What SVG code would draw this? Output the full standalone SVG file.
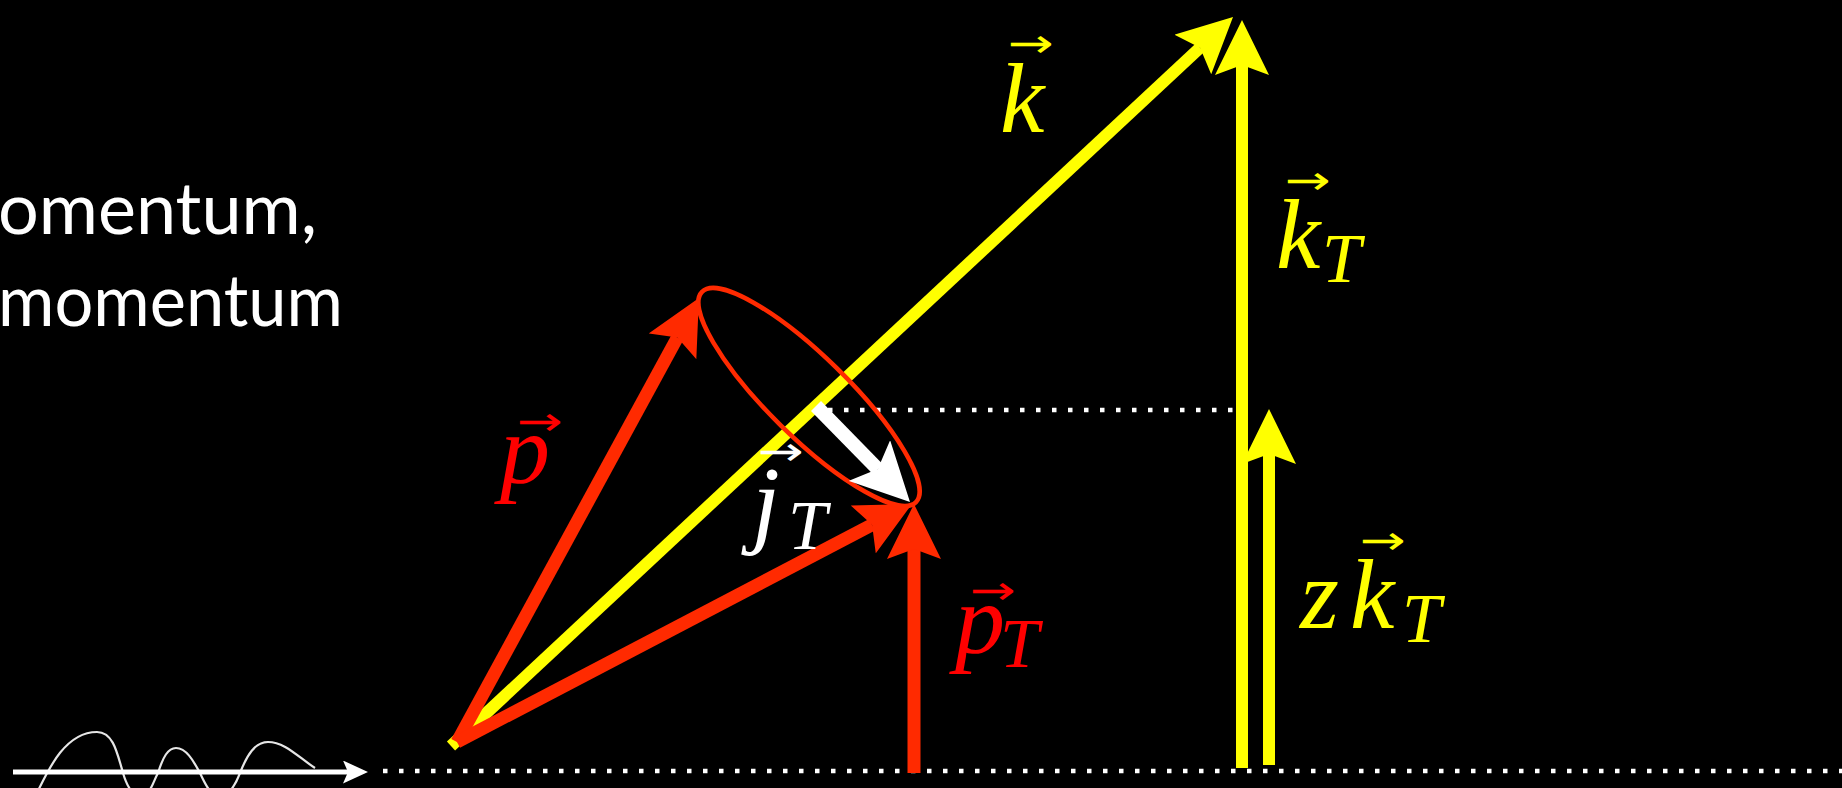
<svg xmlns="http://www.w3.org/2000/svg" width="1842" height="788" viewBox="0 0 1842 788">
<style>
.bg{fill:#000}
.dot{stroke:#fff;stroke-width:4.5;stroke-dasharray:4.5 11.5;fill:none}
.ylw{stroke:#ffff00;stroke-width:12;fill:none}
.red{stroke:#ff2a00;stroke-width:13;fill:none}
.wht{stroke:#fff;stroke-width:14;fill:none}
.body{font-family:Lato,"Open Sans",sans-serif;font-size:71px;fill:#fff}
.m2{font-family:'Liberation Serif',serif;font-style:italic;font-size:100px}
.sub{font-size:70px}
.vec{font-family:'DejaVu Sans',sans-serif;font-style:normal;font-size:40px}
</style>
<defs>
<marker id="hy" markerUnits="userSpaceOnUse" viewBox="0 0 55 54" markerWidth="55" markerHeight="54" refX="10" refY="27" orient="auto"><path d="M0,0 L55,27 L0,54 L10,27 Z" fill="#ffff00"/></marker>
<marker id="hr" markerUnits="userSpaceOnUse" viewBox="0 0 55 54" markerWidth="55" markerHeight="54" refX="10" refY="27" orient="auto"><path d="M0,0 L55,27 L0,54 L10,27 Z" fill="#ff2a00"/></marker>
<marker id="hw" markerUnits="userSpaceOnUse" viewBox="0 0 58 58" markerWidth="58" markerHeight="58" refX="12" refY="29" orient="auto"><path d="M0,0 L58,29 L0,58 L12,29 Z" fill="#fff"/></marker>
<marker id="hs" markerUnits="userSpaceOnUse" viewBox="0 0 25 23" markerWidth="25" markerHeight="23" refX="5" refY="11.5" orient="auto"><path d="M0,0 L25,11.5 L0,23 L5,11.5 Z" fill="#fff"/></marker>
</defs>
<rect class="bg" x="0" y="0" width="1842" height="788"/>

<g id="caption">
<text class="body" x="-2" y="234" textLength="319" lengthAdjust="spacingAndGlyphs">omentum,</text>
<text class="body" x="-2" y="326" textLength="345" lengthAdjust="spacingAndGlyphs">momentum</text>
</g>

<g id="connectors">
<line class="dot" x1="383" y1="771" x2="1842" y2="771"/>
<line class="dot" x1="812" y1="410" x2="1237" y2="410"/>
<path id="wave" d="M36,795 C48,770 65,732 97,732 C113,732 117,752 123,773 C128,790 134,796 141,796 C150,796 153,782 158,773 C163,757 168,748 176,748 C186,748 193,760 200,773 C206,786 211,796 220,796 C229,796 235,786 240,773 C247,755 255,742 268,742 C285,742 298,757 315,768" fill="none" stroke="#e6e6e6" stroke-width="2.2"/>
<line id="beam" x1="13" y1="772" x2="348" y2="772" stroke="#fff" stroke-width="5" marker-end="url(#hs)"/>
<line id="k" class="ylw" x1="451" y1="746" x2="1200.1" y2="47.7" marker-end="url(#hy)"/>
<line id="kT" class="ylw" x1="1242" y1="768" x2="1242" y2="65" marker-end="url(#hy)"/>
<line id="zkT" class="ylw" x1="1269" y1="765" x2="1269" y2="454" marker-end="url(#hy)"/>
<line id="p" class="red" x1="457" y1="742" x2="677.4" y2="337.5" marker-end="url(#hr)"/>
<line id="pdiag" class="red" x1="457" y1="742" x2="872.1" y2="524.8" marker-end="url(#hr)"/>
<line id="pT" class="red" x1="914" y1="773" x2="914" y2="549" marker-end="url(#hr)"/>
<ellipse id="cone" cx="809" cy="397" rx="150" ry="40" transform="rotate(44.5 809 397)" fill="none" stroke="#ff2a00" stroke-width="4.5"/>
<line id="jT" class="wht" x1="816" y1="406" x2="877.8" y2="469.1" marker-end="url(#hw)"/>
</g>

<g id="label-k" fill="#ffff00">
<text class="m2"><tspan class="vec" x="1008" y="57" textLength="46" lengthAdjust="spacingAndGlyphs">→</tspan><tspan x="1000" y="132">k</tspan></text>
</g>
<g id="label-kT" fill="#ffff00">
<text class="m2"><tspan class="vec" x="1285" y="194" textLength="46" lengthAdjust="spacingAndGlyphs">→</tspan><tspan x="1276" y="268">k</tspan><tspan class="sub" x="1322" y="282">T</tspan></text>
</g>
<g id="label-zkT" fill="#ffff00">
<text class="m2"><tspan x="1300" y="628">z</tspan><tspan class="vec" x="1360" y="554" textLength="46" lengthAdjust="spacingAndGlyphs">→</tspan><tspan x="1350" y="628">k</tspan><tspan class="sub" x="1402" y="642">T</tspan></text>
</g>
<g id="label-p" fill="#ff0000">
<text class="m2"><tspan class="vec" x="517" y="435" textLength="46" lengthAdjust="spacingAndGlyphs">→</tspan><tspan x="500" y="483">p</tspan></text>
</g>
<g id="label-pT" fill="#ff0000">
<text class="m2"><tspan class="vec" x="970" y="604" textLength="46" lengthAdjust="spacingAndGlyphs">→</tspan><tspan x="955" y="653">p</tspan><tspan class="sub" x="1000" y="667">T</tspan></text>
</g>
<g id="label-jT" fill="#fff">
<text class="m2"><tspan class="vec" x="758" y="465" textLength="46" lengthAdjust="spacingAndGlyphs">→</tspan><tspan x="752" y="535">j</tspan><tspan class="sub" x="788" y="549">T</tspan></text>
</g>
</svg>
